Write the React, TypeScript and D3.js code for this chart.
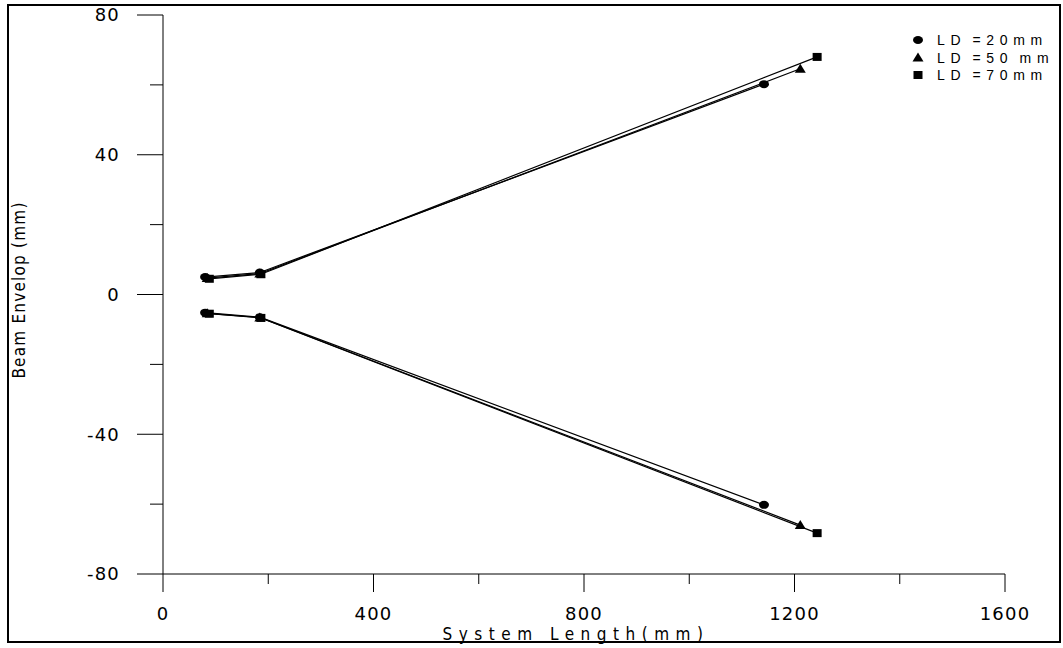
import React from "react";
import * as d3 from "d3";

const seriesNames = ["LD =20mm", "LD =50 mm", "LD =70mm"];
const markerTypes = ["circle", "triangle", "square"];
const xValues = [
  [80, 184, 1142],
  [84, 184, 1211],
  [88, 186, 1243],
];
const upperValues = [
  [5.0, 6.3, 60.2],
  [4.7, 6.0, 64.6],
  [4.5, 5.8, 68.0],
];
const lowerValues = [
  [-5.2, -6.5, -60.2],
  [-5.4, -6.6, -66.0],
  [-5.5, -6.7, -68.3],
];
const xTicks = [0, 400, 800, 1200, 1600];
const xMinorTicks = [200, 600, 1000, 1400];
const yTicks = [80, 40, 0, -40, -80];
const yMinorTicks = [60, 20, -20, -60];

const W = 1063;
const H = 648;

function Marker({ type, x, y }: { type: string; x: number; y: number }) {
  if (type === "circle") return <ellipse cx={x} cy={y} rx={5} ry={4} fill="#000" />;
  if (type === "triangle")
    return <path d={`M${x},${y - 5}L${x + 5.5},${y + 4}L${x - 5.5},${y + 4}Z`} fill="#000" />;
  return <rect x={x - 4.5} y={y - 4} width={9} height={8} fill="#000" />;
}

export default function App() {
  const x = d3.scaleLinear().domain([0, 1600]).range([163, 1005]);
  const y = d3.scaleLinear().domain([-80, 80]).range([574, 15]);
  const line = d3
    .line<[number, number]>()
    .x((d) => x(d[0]))
    .y((d) => y(d[1]));

  const tickFont = "DejaVu Sans, Verdana, sans-serif";
  const legendFont = "Liberation Sans, Arial, sans-serif";
  const titleFont = "DejaVu Sans Condensed, DejaVu Sans, sans-serif";

  return (
    <div style={{ position: "absolute", left: 0, top: 0 }}>
      <svg width={W} height={H} style={{ display: "block", background: "#fff" }}>
        <rect x={8} y={5} width={1052} height={637} fill="none" stroke="#000" strokeWidth={2} />
        {/* Y axis */}
        <line x1={163} x2={163} y1={y(80)} y2={y(-80)} stroke="#000" strokeWidth={1} />
        {yTicks.map((t) => (
          <g key={"yt" + t}>
            <line x1={137} x2={163} y1={y(t)} y2={y(t)} stroke="#000" />
            <text
              x={120}
              y={y(t)}
              dy="0.36em"
              textAnchor="end"
              fontFamily={tickFont}
              fontSize={18}
              letterSpacing={1.2}
            >
              {t}
            </text>
          </g>
        ))}
        {yMinorTicks.map((t) => (
          <line key={"ym" + t} x1={150} x2={163} y1={y(t)} y2={y(t)} stroke="#000" />
        ))}
        {/* X axis */}
        <line x1={x(0)} x2={x(1600)} y1={574} y2={574} stroke="#000" strokeWidth={1} />
        {xTicks.map((t) => (
          <g key={"xt" + t}>
            <line x1={x(t)} x2={x(t)} y1={574} y2={592} stroke="#000" />
            <text
              x={x(t)}
              y={620}
              textAnchor="middle"
              fontFamily={tickFont}
              fontSize={18}
              letterSpacing={1.2}
            >
              {t}
            </text>
          </g>
        ))}
        {xMinorTicks.map((t) => (
          <line key={"xm" + t} x1={x(t)} x2={x(t)} y1={574} y2={584} stroke="#000" />
        ))}
        {/* Titles */}
        <text
          x={576}
          y={640}
          textAnchor="middle"
          fontFamily={titleFont}
          fontSize={17}
          letterSpacing={6.5}
          fontWeight={300}
        >
          System Length(mm)
        </text>
        <text
          transform="translate(25,290) rotate(-90)"
          textAnchor="middle"
          fontFamily={titleFont}
          fontSize={17}
          fontWeight={300}
          letterSpacing={1.2}
        >
          Beam Envelop (mm)
        </text>
        {/* Series */}
        {seriesNames.map((name, i) => {
          const up: [number, number][] = xValues[i].map((v, j) => [v, upperValues[i][j]]);
          const lo: [number, number][] = xValues[i].map((v, j) => [v, lowerValues[i][j]]);
          return (
            <g key={name}>
              <path d={line(up) || ""} fill="none" stroke="#000" strokeWidth={1.2} />
              <path d={line(lo) || ""} fill="none" stroke="#000" strokeWidth={1.2} />
              {up.concat(lo).map((d, k) => (
                <Marker key={k} type={markerTypes[i]} x={x(d[0])} y={y(d[1])} />
              ))}
            </g>
          );
        })}
        {/* Legend */}
        {seriesNames.map((name, i) => (
          <g key={"lg" + name}>
            <Marker type={markerTypes[i]} x={918} y={40 + i * 17.5} />
            <text
              x={937}
              y={40 + i * 17.5}
              dy="0.36em"
              fontFamily={legendFont}
              fontSize={14}
              letterSpacing={5.6}
              wordSpacing={-3}
              fill="#000"
            >
              {name}
            </text>
          </g>
        ))}
      </svg>
    </div>
  );
}
